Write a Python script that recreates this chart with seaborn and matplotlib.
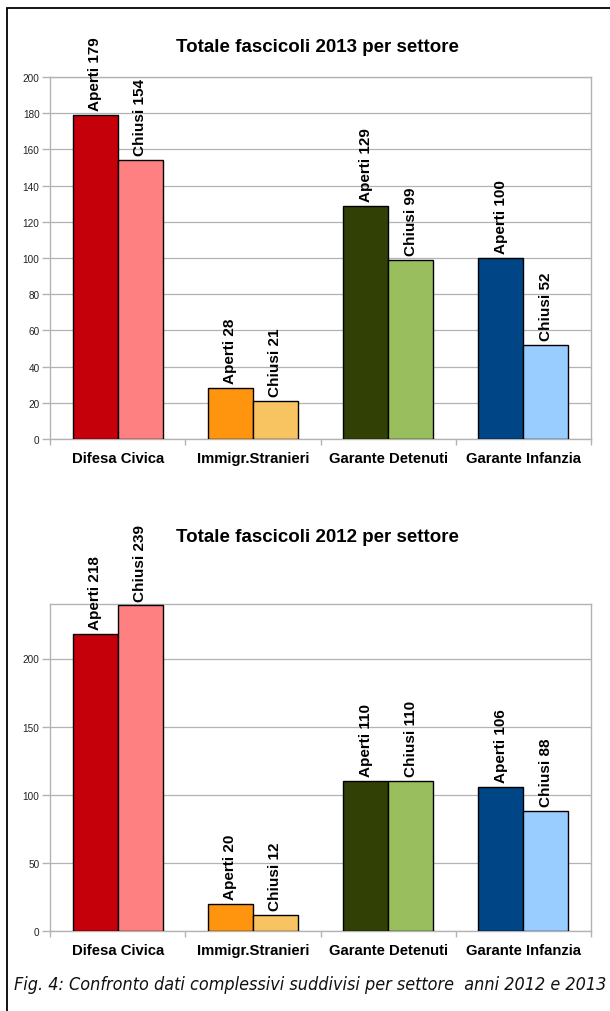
import matplotlib
matplotlib.use("Agg")
import matplotlib.pyplot as plt
import seaborn as sns
import pandas as pd
from matplotlib.patches import Rectangle

# ---------------- data ----------------
settori = ["Difesa Civica", "Immigr.Stranieri", "Garante Detenuti", "Garante Infanzia"]
tipi = ["Aperti", "Chiusi"]
aperti_2013 = [179, 28, 129, 100]
chiusi_2013 = [154, 21, 99, 52]
aperti_2012 = [218, 20, 110, 106]
chiusi_2012 = [239, 12, 110, 88]
colori_aperti = ["#C5000B", "#FF950E", "#314004", "#004586"]
colori_chiusi = ["#FF8080", "#F8C462", "#98BE5E", "#99CCFF"]
titolo_2013 = "Totale fascicoli 2013 per settore"
titolo_2012 = "Totale fascicoli 2012 per settore"
y_ticks_2013 = [0, 20, 40, 60, 80, 100, 120, 140, 160, 180, 200]
y_ticks_2012 = [0, 50, 100, 150, 200]
didascalia = "Fig. 4: Confronto dati complessivi suddivisi per settore  anni 2012 e 2013"

sns.set_theme(style="white")
plt.rcParams["font.family"] = ["Liberation Sans", "DejaVu Sans"]

W, H = 610, 1012
fig = plt.figure(figsize=(W / 100, H / 100), dpi=100)
fig.patch.set_facecolor("white")

GRID = "#B3B3B3"


def draw(ax, aperti, chiusi, yticks, ymax):
    df = pd.DataFrame({
        "settore": settori * 2,
        "tipo": [tipi[0]] * len(settori) + [tipi[1]] * len(settori),
        "valore": aperti + chiusi,
    })
    sns.barplot(data=df, x="settore", y="valore", hue="tipo", order=settori,
                hue_order=tipi, width=0.667, ax=ax, legend=False,
                edgecolor="black", linewidth=1, saturation=1, zorder=3)
    for cont, cols, tipo, vals in zip(ax.containers, [colori_aperti, colori_chiusi],
                                      tipi, [aperti, chiusi]):
        for patch, c in zip(cont, cols):
            patch.set_facecolor(c)
        ax.bar_label(cont, labels=[f"{tipo} {v}" for v in vals], rotation=90,
                     padding=3.5, fontsize=11, fontweight="bold", color="black",
                     clip_on=False)
    ax.set_ylim(0, ymax)
    ax.set_xlim(-0.5, len(settori) - 0.5)
    ax.set_yticks(yticks)
    ax.set_yticklabels([str(t) for t in yticks], fontsize=7.2, color="#222222")
    ax.yaxis.grid(True, color=GRID, linewidth=0.9)
    ax.set_axisbelow(True)
    ax.set_xlabel("")
    ax.set_ylabel("")
    ax.set_xticks(range(len(settori)))
    ax.set_xticklabels(settori, fontsize=10.7, fontweight="bold", color="black")
    ax.set_xticks([i - 0.5 for i in range(len(settori) + 1)], minor=True)
    ax.tick_params(axis="x", which="major", length=0, pad=8.5, bottom=True)
    ax.tick_params(axis="x", which="minor", length=4.5, width=1, color=GRID,
                   direction="out", bottom=True)
    ax.tick_params(axis="y", which="major", length=6, width=1, color=GRID,
                   direction="out", left=True, pad=1.5)
    for sp in ax.spines.values():
        sp.set_visible(True)
        sp.set_color(GRID)
        sp.set_linewidth(1)


ax1 = fig.add_axes([50 / W, 1 - 440 / H, 541 / W, 362 / H])
ax2 = fig.add_axes([50 / W, 1 - 932 / H, 541 / W, 327 / H])
draw(ax1, aperti_2013, chiusi_2013, y_ticks_2013, 200)
draw(ax2, aperti_2012, chiusi_2012, y_ticks_2012, 240)

fig.text(317 / W, 1 - 47 / H, titolo_2013, ha="center", va="center",
         fontsize=13.5, fontweight="bold", color="black")
fig.text(317 / W, 1 - 538 / H, titolo_2012, ha="center", va="center",
         fontsize=13.5, fontweight="bold", color="black")

cap = fig.text(310 / W, 1 - 985 / H, didascalia, ha="center", va="center",
               fontsize=14, fontstyle="italic", fontstretch="condensed",
               color="#111111", family=["DejaVu Sans"])
# fit caption width to the reference span (~595 px)
fig.canvas.draw()
r = fig.canvas.get_renderer()
wpx = cap.get_window_extent(renderer=r).width
cap.set_fontsize(14 * 592 / wpx)

fig.add_artist(Rectangle((7 / W, -0.02), 1.1, 1 - 9 / H + 0.02,
                         transform=fig.transFigure, fill=False,
                         edgecolor="black", linewidth=1.3))

fig.savefig("out.png", dpi=100)
